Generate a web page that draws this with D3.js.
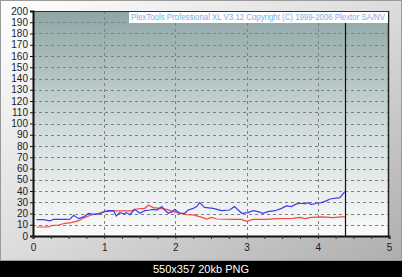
<!DOCTYPE html>
<html>
<head>
<meta charset="utf-8">
<script src="https://cdn.jsdelivr.net/npm/d3@7"></script>
<style>
  html, body { margin: 0; padding: 0; background: #000; }
  svg { display: block; font-family: "Liberation Sans", Arial, sans-serif; }
</style>
</head>
<body>
<svg id="chart" width="402" height="277"></svg>
<script>
// data
const title = 'PlexTools Professional XL V3.12 Copyright (C) 1999-2006 Plextor SA/NV';
const caption = '550x357 20kb PNG';
const yTicks = d3.range(0, 201, 10);
const xTicks = [0, 1, 2, 3, 4, 5];
const endPos = 4.38;

const blueX = [0.05, 0.145, 0.24, 0.285, 0.47, 0.52, 0.57, 0.64, 0.71, 0.78, 0.85, 0.94, 1.0, 1.06, 1.13, 1.17,
  1.22, 1.28, 1.31, 1.36, 1.43, 1.5, 1.57, 1.64, 1.69, 1.74, 1.81, 1.85, 1.9, 1.95, 1.99, 2.06, 2.13, 2.18,
  2.25, 2.3, 2.34, 2.41, 2.53, 2.65, 2.76, 2.83, 2.93, 3.02, 3.09, 3.16, 3.23, 3.3, 3.4, 3.49, 3.56, 3.63,
  3.7, 3.77, 3.82, 3.86, 3.91, 3.98, 4.05, 4.12, 4.17, 4.31, 4.38];
const blueY = [14.5, 14.5, 13.4, 14.8, 14.8, 15, 18.4, 15.4, 17, 20, 19.3, 19.6, 21.7, 22.5, 22.5, 17.8,
  20.8, 19.6, 20.8, 19, 23.7, 20.2, 22.5, 23.1, 23.7, 23.1, 26.1, 23.1, 20.2, 21.4, 23.7, 20.2, 20.2, 23.1,
  24.6, 26.1, 29.7, 25.5, 24.6, 22.5, 23.1, 26.1, 20.2, 20.8, 22.5, 21.7, 20.2, 21.7, 22.5, 24.6, 26.7, 26.1,
  28.5, 29.1, 28.5, 29.7, 27.9, 29.1, 29.7, 31.2, 32.9, 34.1, 39.5];

const redX = [0.05, 0.215, 0.26, 0.36, 0.45, 0.54, 0.64, 0.73, 0.82, 0.92, 1.01, 1.13, 1.27, 1.38, 1.45,
  1.57, 1.62, 1.69, 1.78, 1.88, 1.97, 2.06, 2.16, 2.25, 2.34, 2.44, 2.51, 2.58, 2.81, 2.93, 3.0, 3.09, 3.28,
  3.42, 3.65, 3.75, 3.82, 3.91, 4.07, 4.21, 4.38];
const redY = [8, 8, 9.2, 9.8, 11.3, 11.9, 13.6, 16.6, 18.7, 20.2, 21.7, 22.3, 22.3, 22.3, 24,
  24.6, 27.3, 25.2, 24.6, 23.7, 21.7, 20.2, 19, 18.7, 17.2, 15.1, 16.6, 15.1, 14.8, 14.8, 13.1, 14.8, 14.8,
  15.4, 15.7, 16.6, 15.4, 16.6, 17, 16.3, 17.2];

const svg = d3.select('#chart');
const x = d3.scaleLinear().domain([0, 5]).range([33, 389]);
const y = d3.scaleLinear().domain([0, 200]).range([236, 11]);

const defs = svg.append('defs');
const bg = defs.append('linearGradient').attr('id', 'bg')
  .attr('x1', 0).attr('y1', 0).attr('x2', 1).attr('y2', 1);
bg.append('stop').attr('offset', 0).attr('stop-color', '#ffffff');
bg.append('stop').attr('offset', 0.5).attr('stop-color', '#dcdcdc');
bg.append('stop').attr('offset', 1).attr('stop-color', '#aeaeae');
const pg = defs.append('linearGradient').attr('id', 'plotbg')
  .attr('x1', 0).attr('y1', 0).attr('x2', 0).attr('y2', 1);
pg.append('stop').attr('offset', 0).attr('stop-color', '#8fa6a6');
pg.append('stop').attr('offset', 0.55).attr('stop-color', '#d4dede');
pg.append('stop').attr('offset', 1).attr('stop-color', '#fafafa');

// outer frame
svg.append('rect').attr('width', 402).attr('height', 261).attr('fill', 'url(#bg)');
svg.append('rect').attr('x', 0.5).attr('y', 0.5).attr('width', 401).attr('height', 260)
  .attr('fill', 'none').attr('stroke', '#9a9a9a');

// plot area
svg.append('rect').attr('x', x(0)).attr('y', y(200))
  .attr('width', x(5) - x(0)).attr('height', y(0) - y(200))
  .attr('fill', 'url(#plotbg)');

// grid
svg.append('g').selectAll('line').data(yTicks.filter(d => d > 0 && d < 200)).join('line')
  .attr('x1', x(0)).attr('x2', x(5))
  .attr('y1', d => Math.round(y(d)) + 0.5).attr('y2', d => Math.round(y(d)) + 0.5)
  .attr('stroke', '#808080').attr('stroke-dasharray', '3,3');
svg.append('g').selectAll('line').data(xTicks.filter(d => d > 0 && d < 5)).join('line')
  .attr('x1', d => Math.round(x(d)) + 0.5).attr('x2', d => Math.round(x(d)) + 0.5)
  .attr('y1', y(200)).attr('y2', y(0))
  .attr('stroke', '#808080').attr('stroke-dasharray', '3,3');

// series
const line = d3.line().x(d => x(d[0])).y(d => y(d[1]));
svg.append('path').datum(d3.zip(redX, redY))
  .attr('d', line).attr('fill', 'none').attr('stroke', '#f04848').attr('stroke-width', 1.2);
svg.append('path').datum(d3.zip(blueX, blueY))
  .attr('d', line).attr('fill', 'none').attr('stroke', '#3c3cf0').attr('stroke-width', 1.2);

// end marker
svg.append('line')
  .attr('x1', Math.round(x(endPos)) + 0.5).attr('x2', Math.round(x(endPos)) + 0.5)
  .attr('y1', y(200)).attr('y2', y(0))
  .attr('stroke', '#111').attr('stroke-width', 1.2);

// plot border
svg.append('line').attr('x1', x(0)).attr('x2', x(5)).attr('y1', y(200) + 0.5).attr('y2', y(200) + 0.5)
  .attr('stroke', '#333');
svg.append('line').attr('x1', x(5) - 0.5).attr('x2', x(5) - 0.5).attr('y1', y(200)).attr('y2', y(0))
  .attr('stroke', '#222').attr('stroke-width', 1.5);

// axes
const yAxis = svg.append('g').attr('transform', `translate(${x(0)},0)`)
  .call(d3.axisLeft(y).tickValues(yTicks).tickSize(3).tickPadding(2));
yAxis.select('.domain').attr('stroke', '#111').attr('stroke-width', 2);
yAxis.selectAll('.tick line').attr('stroke', '#111');
yAxis.selectAll('text').attr('font-size', 10).attr('fill', '#1a1a2a')
  .attr('font-family', '"Liberation Sans", Arial, sans-serif');

const xAxis = svg.append('g').attr('transform', `translate(0,${y(0)})`)
  .call(d3.axisBottom(x).tickValues(d3.range(0, 5.01, 0.25)).tickSize(3)
    .tickFormat(d => Number.isInteger(d) ? d : ''));
xAxis.select('.domain').attr('stroke', '#111').attr('stroke-width', 2);
xAxis.selectAll('.tick line').attr('stroke', '#333');
xAxis.selectAll('text').attr('font-size', 10).attr('fill', '#1a1a2a').attr('dy', '0.9em')
  .attr('font-family', '"Liberation Sans", Arial, sans-serif');

// title box
svg.append('rect').attr('x', 129).attr('y', y(200) + 1).attr('width', 259).attr('height', 11)
  .attr('fill', '#ffffff');
svg.append('text').attr('x', 131).attr('y', y(200) + 9)
  .attr('font-size', 8.4).attr('fill', '#7aaee6')
  .attr('textLength', 254).attr('lengthAdjust', 'spacingAndGlyphs')
  .text(title);

// caption strip
svg.append('rect').attr('y', 261).attr('width', 402).attr('height', 16).attr('fill', '#000');
svg.append('text').attr('x', 201).attr('y', 273).attr('text-anchor', 'middle')
  .attr('font-size', 11).attr('fill', '#ffffff').text(caption);
</script>
</body>
</html>
